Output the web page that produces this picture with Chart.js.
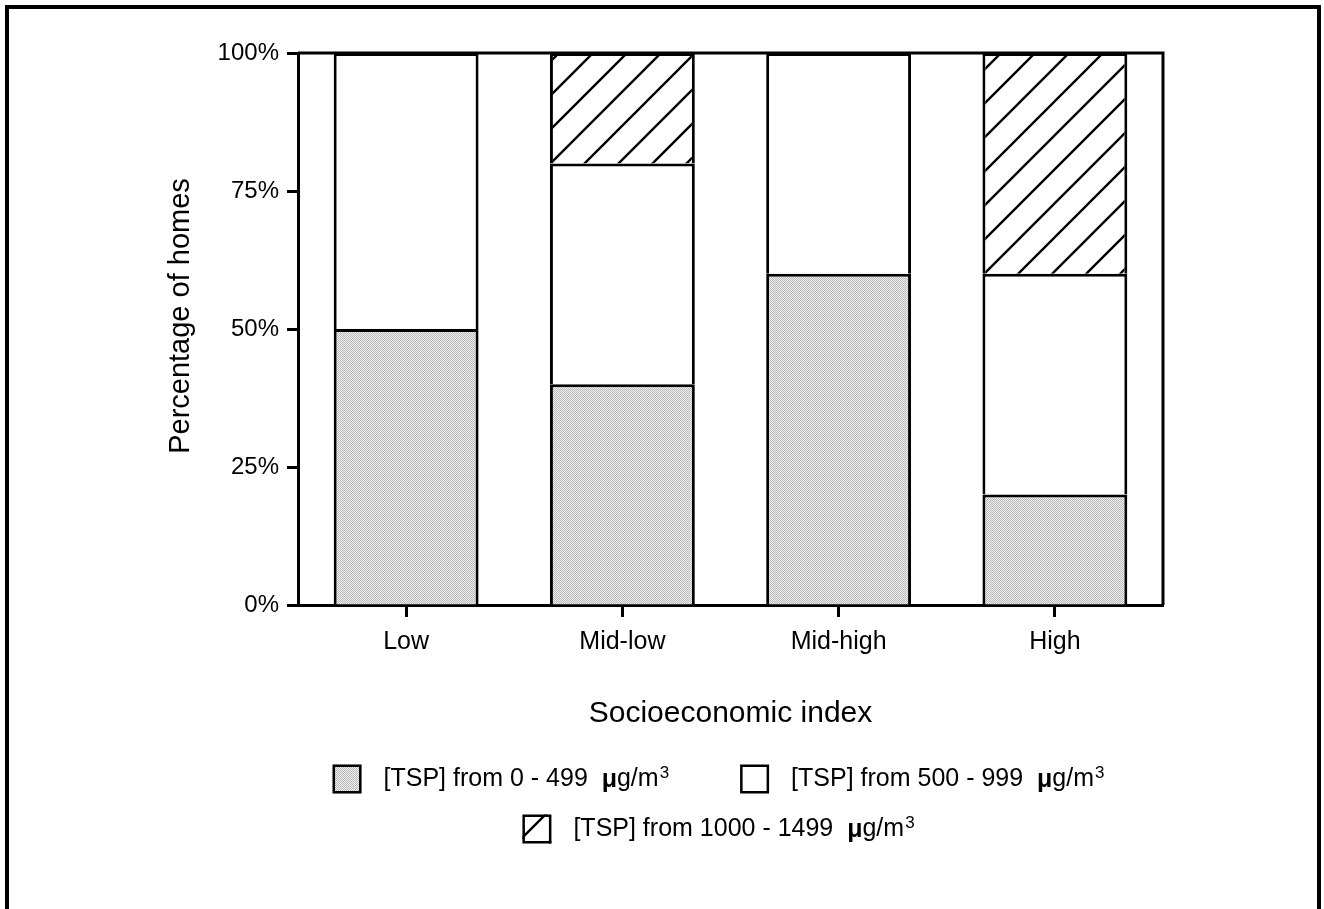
<!DOCTYPE html>
<html>
<head>
<meta charset="utf-8">
<script src="https://cdn.jsdelivr.net/npm/chart.js@4"></script>
<style>
  html, body { margin: 0; padding: 0; background: #fff; }
  #wrap { position: relative; width: 1324px; height: 909px; }
</style>
</head>
<body>
<div id="wrap"><canvas id="c" width="1324" height="909"></canvas></div>
<script>
// Socioeconomic index groups
const categories = ['Low', 'Mid-low', 'Mid-high', 'High'];

// Share of homes (%) in each TSP concentration band
const tsp0to499 = [50, 40, 60, 20];
const tsp500to999 = [50, 40, 40, 40];
const tsp1000to1499 = [0, 20, 0, 40];

const seriesLabels = [
  '[TSP] from 0 - 499  \u03bcg/m3',
  '[TSP] from 500 - 999  \u03bcg/m3',
  '[TSP] from 1000 - 1499  \u03bcg/m3'
];

const yTicks = [0, 25, 50, 75, 100];
const yTitle = 'Percentage of homes';

const FONT = "'Liberation Sans', Arial, sans-serif";

// Fine stipple used for the lowest band
function stipplePattern() {
  const p = document.createElement('canvas');
  p.width = 2; p.height = 2;
  const g = p.getContext('2d');
  g.fillStyle = '#f0f0f0'; g.fillRect(0, 0, 2, 2);
  g.fillStyle = '#b8b8b8'; g.fillRect(0, 0, 1, 1); g.fillRect(1, 1, 1, 1);
  return g.createPattern(p, 'repeat');
}

// Diagonal "/" hatching used for the highest band
function hatchPattern() {
  const s = 34;
  const p = document.createElement('canvas');
  p.width = s; p.height = s;
  const g = p.getContext('2d');
  g.fillStyle = '#fff'; g.fillRect(0, 0, s, s);
  g.strokeStyle = '#000'; g.lineWidth = 2.4;
  g.beginPath();
  g.moveTo(-2, s + 2); g.lineTo(s + 2, -2);
  g.moveTo(-2, 2); g.lineTo(2, -2);
  g.moveTo(s - 2, s + 2); g.lineTo(s + 2, s - 2);
  g.stroke();
  return g.createPattern(p, 'repeat');
}

const fills = [stipplePattern(), '#ffffff', hatchPattern()];

// Outer frame, closed plot box, y-axis title and the legend under the x title
const decorations = {
  id: 'decorations',
  afterDatasetsDraw(chart) {
    const { ctx, chartArea: a } = chart;
    ctx.save();
    ctx.strokeStyle = '#000';
    ctx.lineWidth = 3;
    ctx.beginPath();
    ctx.moveTo(a.left, a.top);
    ctx.lineTo(a.right, a.top);
    ctx.lineTo(a.right, a.bottom);
    ctx.stroke();
    ctx.restore();
  },
  afterDraw(chart) {
    const { ctx } = chart;
    ctx.save();
    // page frame
    ctx.fillStyle = '#000';
    ctx.fillRect(5, 5, 1316, 4);
    ctx.fillRect(5, 5, 4, 904);
    ctx.fillRect(1317, 5, 4, 904);

    // y-axis title
    ctx.save();
    ctx.translate(181, 316);
    ctx.rotate(-Math.PI / 2);
    ctx.font = '29px ' + FONT;
    ctx.textAlign = 'center';
    ctx.textBaseline = 'middle';
    ctx.fillStyle = '#000';
    ctx.fillText(yTitle, 0, 0);
    ctx.restore();

    const ds = chart.data.datasets;
    const big = '25px ' + FONT;
    const bold = 'bold 25px ' + FONT;
    const sup = '17px ' + FONT;

    function measure(label) {
      const idx = label.indexOf('\u03bc');
      const pre = label.slice(0, idx);
      const post = label.slice(idx + 1, label.length - 1);
      const expo = label.slice(label.length - 1);
      ctx.font = big; const w1 = ctx.measureText(pre).width;
      ctx.font = bold; const w2 = ctx.measureText('\u03bc').width;
      ctx.font = big; const w3 = ctx.measureText(post).width;
      ctx.font = sup; const w4 = ctx.measureText(expo).width;
      return { pre, post, expo, w1, w2, w3, w4, total: w1 + w2 + w3 + w4 };
    }

    const sw = 29, gapText = 22, gapItems = 72;
    function drawItem(i, x, cy) {
      const m = measure(ds[i].label);
      ctx.fillStyle = ds[i].backgroundColor;
      ctx.fillRect(x, cy - sw / 2, sw, sw);
      ctx.strokeStyle = '#000'; ctx.lineWidth = 2.5;
      ctx.strokeRect(x + 1.25, cy - sw / 2 + 1.25, sw - 2.5, sw - 2.5);
      ctx.fillStyle = '#000';
      ctx.textBaseline = 'middle';
      ctx.textAlign = 'left';
      let tx = x + sw + gapText;
      ctx.font = big; ctx.fillText(m.pre, tx, cy); tx += m.w1;
      ctx.font = bold; ctx.fillText('\u03bc', tx, cy + 1); tx += m.w2;
      ctx.font = big; ctx.fillText(m.post, tx, cy); tx += m.w3;
      ctx.font = sup; ctx.fillText(m.expo, tx + 1, cy - 6);
      return sw + gapText + m.total;
    }
    function itemWidth(i) { return sw + gapText + measure(ds[i].label).total; }

    const centerX = 718;
    const row1 = itemWidth(0) + gapItems + itemWidth(1);
    let x = centerX - row1 / 2;
    x += drawItem(0, x, 779) + gapItems;
    drawItem(1, x, 779);
    drawItem(2, centerX - itemWidth(2) / 2, 829);
    ctx.restore();
  }
};

const datasets = [tsp0to499, tsp500to999, tsp1000to1499].map((vals, i) => ({
  label: seriesLabels[i],
  data: vals,
  backgroundColor: fills[i],
  borderColor: '#000',
  borderWidth: 3,
  borderSkipped: 'bottom',
  barPercentage: 0.67,
  categoryPercentage: 1.0
}));

new Chart(document.getElementById('c'), {
  type: 'bar',
  data: { labels: categories, datasets },
  options: {
    responsive: false,
    animation: false,
    devicePixelRatio: 1,
    layout: { padding: { left: 164, right: 161, top: 53, bottom: 177 } },
    plugins: { legend: { display: false }, tooltip: { enabled: false } },
    scales: {
      x: {
        stacked: true,
        offset: true,
        afterFit(scale) { scale.height = 127; },
        border: { display: true, color: '#000', width: 3 },
        grid: { display: true, drawOnChartArea: false, offset: false, tickLength: 12, tickWidth: 3, tickColor: '#000' },
        ticks: { color: '#000', font: { family: FONT, size: 25 }, padding: 10 },
        title: { display: true, text: 'Socioeconomic index', color: '#000', font: { family: FONT, size: 30 }, padding: 0 }
      },
      y: {
        stacked: true,
        min: 0,
        max: 100,
        afterFit(scale) { scale.width = 134; },
        afterBuildTicks(scale) { scale.ticks = yTicks.map(v => ({ value: v })); },
        border: { display: true, color: '#000', width: 3 },
        grid: { display: true, drawOnChartArea: false, tickLength: 11, tickWidth: 3, tickColor: '#000' },
        ticks: { color: '#000', font: { family: FONT, size: 24 }, padding: 8, callback: v => v + '%' },
        title: { display: false }
      }
    }
  },
  plugins: [decorations]
});
</script>
</body>
</html>
